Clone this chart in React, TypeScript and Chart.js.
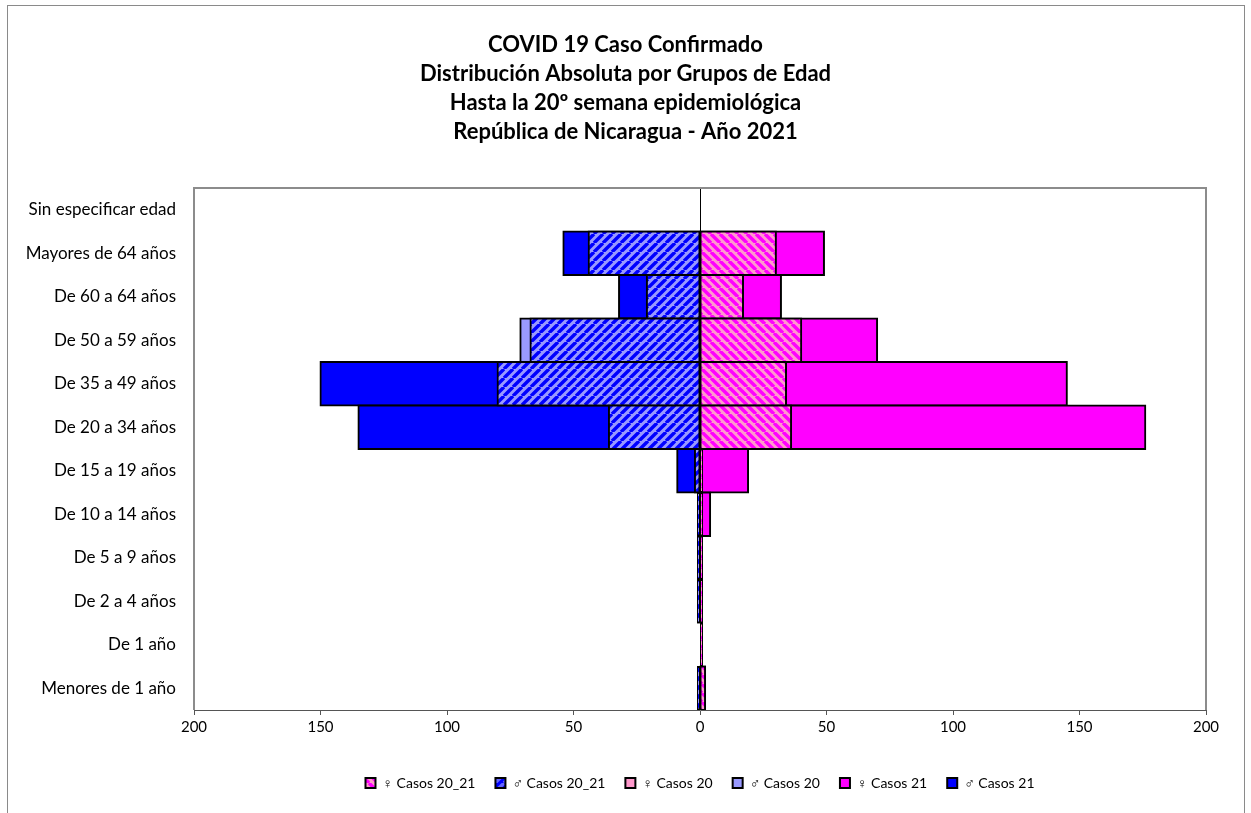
import React, { useEffect, useRef } from 'react';
import { Chart, registerables } from 'chart.js';

Chart.register(...registerables);

const titleLines = [
  'COVID 19 Caso Confirmado',
  'Distribución Absoluta por Grupos de Edad',
  'Hasta la 20º semana epidemiológica',
  'República de Nicaragua - Año 2021',
];

const categories = [
  'Sin especificar edad',
  'Mayores de 64 años',
  'De 60 a 64 años',
  'De 50 a 59 años',
  'De 35 a 49 años',
  'De 20 a 34 años',
  'De 15 a 19 años',
  'De 10 a 14 años',
  'De 5 a 9 años',
  'De 2 a 4 años',
  'De 1 año',
  'Menores de 1 año',
];

const seriesLabels = [
  '♀ Casos 20_21',
  '♂ Casos 20_21',
  '♀ Casos 20',
  '♂ Casos 20',
  '♀ Casos 21',
  '♂ Casos 21',
];

const femaleCasos20_21: (number | null)[] = [null, null, null, null, null, null, null, null, null, null, null, null];
const maleCasos20_21: (number | null)[] = [null, null, null, null, null, null, null, null, null, null, null, null];
const femaleCasos20: (number | null)[] = [null, 30, 17, 40, 34, 36, 1, 1, 1, 1, 1, 2];
const maleCasos20: (number | null)[] = [null, -44, -21, -67, -80, -36, -2, -1, -1, -1, null, -1];
const femaleCasos21: (number | null)[] = [null, 49, 32, 70, 145, 176, 19, 4, 1, 1, 1, 2];
const maleCasos21: (number | null)[] = [null, -54, -32, -71, -150, -135, -9, -1, -1, -1, null, -1];

const xMin = -200;
const xMax = 200;
const xStep = 50;

const FONT = 'Lato, "Open Sans", sans-serif';

function hatch(base: string, stripe: string, dir: '/' | '\\'): CanvasPattern | string {
  const s = 9;
  const c = document.createElement('canvas');
  c.width = s;
  c.height = s;
  const g = c.getContext('2d');
  if (!g) return base;
  g.fillStyle = base;
  g.fillRect(0, 0, s, s);
  g.strokeStyle = stripe;
  g.lineWidth = 3.4;
  g.beginPath();
  for (const x0 of [-s, 0, s]) {
    if (dir === '/') {
      g.moveTo(x0, s);
      g.lineTo(x0 + s, 0);
    } else {
      g.moveTo(x0, 0);
      g.lineTo(x0 + s, s);
    }
  }
  g.stroke();
  const p = g.createPattern(c, 'repeat');
  return p || base;
}

const framePlugin = {
  id: 'frames',
  beforeDraw(chart: any) {
    const { ctx } = chart;
    ctx.save();
    ctx.fillStyle = '#ffffff';
    ctx.fillRect(0, 0, chart.width, chart.height);
    ctx.strokeStyle = '#8a8a8a';
    ctx.lineWidth = 1;
    ctx.strokeRect(7.5, 5.5, 1237, 900);
    ctx.restore();
  },
  beforeDatasetsDraw(chart: any) {
    const { ctx, chartArea: a } = chart;
    ctx.save();
    ctx.strokeStyle = '#8c8c8c';
    ctx.lineWidth = 2;
    ctx.beginPath();
    ctx.moveTo(a.left, a.bottom);
    ctx.lineTo(a.left, a.top);
    ctx.lineTo(a.right, a.top);
    ctx.lineTo(a.right, a.bottom);
    ctx.stroke();
    ctx.restore();
  },
};

export default function App() {
  const ref = useRef<HTMLCanvasElement | null>(null);

  useEffect(() => {
    if (!ref.current) return;
    const pinkHatch = hatch('#FF99CC', '#FF00FF', '\\');
    const blueHatch = hatch('#9999FF', '#0000FF', '/');
    const blueDark = hatch('#0000FF', '#6666FF', '/');
    const male21Colors = maleCasos21.map((v, i) => (i === 3 ? '#9999FF' : '#0000FF'));
    const legendFills: any[] = [pinkHatch, blueDark, '#FF99CC', '#9999FF', '#FF00FF', '#0000FF'];

    const chart = new Chart(ref.current, {
      type: 'bar',
      data: {
        labels: categories,
        datasets: [
          { label: seriesLabels[0], data: femaleCasos20_21, backgroundColor: pinkHatch },
          { label: seriesLabels[1], data: maleCasos20_21, backgroundColor: blueDark },
          { label: seriesLabels[2], data: femaleCasos20, backgroundColor: pinkHatch },
          { label: seriesLabels[3], data: maleCasos20, backgroundColor: blueHatch },
          { label: seriesLabels[4], data: femaleCasos21, backgroundColor: '#FF00FF' },
          { label: seriesLabels[5], data: maleCasos21, backgroundColor: male21Colors },
        ] as any,
      },
      options: {
        indexAxis: 'y',
        responsive: true,
        maintainAspectRatio: false,
        animation: false,
        layout: { padding: { top: 0, left: 0, right: 0, bottom: 13 } },
        datasets: {
          bar: {
            grouped: false,
            categoryPercentage: 1,
            barPercentage: 1,
            borderWidth: 2,
            borderColor: '#000000',
            borderSkipped: false,
            inflateAmount: (c: any) => {
              const v = c.raw == null ? 0 : Math.abs(Number(c.raw));
              return v < 2 ? 0.5 : 1;
            },
          },
        } as any,
        scales: {
          x: {
            type: 'linear',
            min: xMin,
            max: xMax,
            ticks: {
              stepSize: xStep,
              callback: (v: any) => String(Math.abs(Number(v))),
              font: { family: FONT, size: 15 },
              color: '#000000',
              padding: 3,
            },
            grid: {
              color: (c: any) => (c.tick && c.tick.value === 0 ? '#000000' : 'rgba(0,0,0,0)'),
              tickColor: '#555555',
              tickLength: 5,
              lineWidth: 1,
            },
            border: { color: '#555555', width: 1 },
            afterFit: (s: any) => {
              s.height = 46;
            },
          } as any,
          y: {
            ticks: {
              font: { family: FONT, size: 17 },
              color: '#000000',
              padding: 10,
            },
            grid: { display: false },
            border: { display: false },
            afterFit: (s: any) => {
              s.width = 194;
            },
          } as any,
          yRight: {
            type: 'category',
            position: 'right',
            display: true,
            ticks: { display: false },
            grid: { display: false, drawTicks: false },
            border: { display: false },
            afterFit: (s: any) => {
              s.width = 45;
            },
          } as any,
        },
        plugins: {
          title: {
            display: true,
            text: titleLines,
            font: { family: FONT, size: 22, weight: 'bold', lineHeight: 29 / 22 },
            color: '#000000',
            padding: { top: 30, bottom: 42 },
          },
          legend: {
            display: true,
            position: 'bottom',
            fullSize: false,
            labels: {
              boxWidth: 10,
              boxHeight: 10,
              padding: 20,
              color: '#000000',
              font: { family: FONT, size: 14 },
              generateLabels: (ch: any) => {
                const items = (Chart as any).defaults.plugins.legend.labels.generateLabels(ch);
                items.forEach((it: any, i: number) => {
                  it.fillStyle = legendFills[i];
                  it.strokeStyle = '#000000';
                  it.lineWidth = 2;
                });
                return items;
              },
            },
          },
          tooltip: { enabled: false },
        },
      } as any,
      plugins: [framePlugin],
    });
    return () => chart.destroy();
  }, []);

  return (
    <div style={{ position: 'fixed', left: 0, top: 0, width: 1251, height: 813, background: '#fff' }}>
      <canvas ref={ref} />
    </div>
  );
}
